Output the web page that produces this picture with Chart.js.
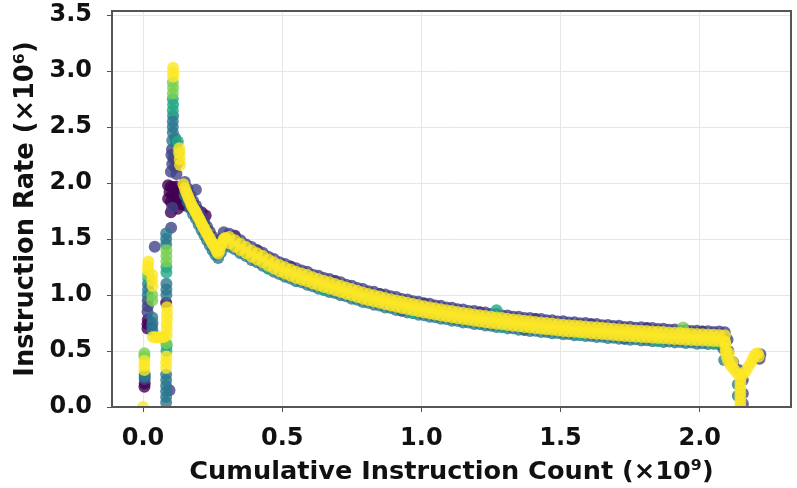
<!DOCTYPE html>
<html>
<head>
<meta charset="utf-8">
<script src="https://cdn.jsdelivr.net/npm/chart.js@4.4.1/dist/chart.umd.min.js"></script>
<style>
  html, body { margin: 0; padding: 0; background: #fff; }
  canvas { display: block; }
</style>
</head>
<body>
<canvas id="chart" width="797" height="488"></canvas>
<script>
// axis ticks
const xTicks = [0, 0.5, 1.0, 1.5, 2.0];
const yTicks = [0, 0.5, 1.0, 1.5, 2.0, 2.5, 3.0, 3.5];

// one series per run, coloured along viridis (last run drawn on top)
const runNames = ['Run 1', 'Run 2', 'Run 3', 'Run 4', 'Run 5', 'Run 6'];
const runColors = ['#440154cc', '#414487cc', '#2a788ecc', '#22a884cc', '#7ad151cc', '#fde725cc'];

// steep part right after the peak (x in 1e9 instructions, y in 1e6 instr/s)
const earlyX = [
  0.145, 0.15, 0.155, 0.16, 0.165, 0.17, 0.175, 0.18, 0.185, 0.19, 0.195, 0.2, 0.205, 0.21, 0.215, 0.22,
  0.225, 0.23, 0.235, 0.24, 0.245, 0.25, 0.255, 0.26, 0.265, 0.27, 0.275, 0.28, 0.285, 0.29, 0.295, 0.3
];
const yellowEarlyY = [
  1.99, 1.95, 1.92, 1.89, 1.86, 1.83, 1.80, 1.78, 1.76, 1.74, 1.71, 1.69, 1.665, 1.64, 1.615, 1.595,
  1.57, 1.55, 1.525, 1.505, 1.48, 1.46, 1.44, 1.42, 1.39, 1.37, 1.40, 1.44, 1.47, 1.50, 1.51, 1.50
];
const earlyEdgeX = [0.15, 0.16, 0.17, 0.18, 0.19, 0.2, 0.21, 0.22, 0.23, 0.24, 0.25, 0.26, 0.27, 0.28, 0.29];
const blueEarlyY = [2.01, 1.95, 1.89, 1.84, 1.80, 1.75, 1.70, 1.655, 1.61, 1.565, 1.52, 1.48, 1.45, 1.50, 1.56];
const tealEarlyY = [1.89, 1.83, 1.77, 1.72, 1.68, 1.63, 1.58, 1.535, 1.49, 1.445, 1.40, 1.36, 1.33, 1.38, 1.44];

// slow decay of the main band
const gridX = [
  0.31, 0.33, 0.35, 0.37, 0.39, 0.41, 0.43, 0.45, 0.47, 0.49,
  0.51, 0.53, 0.55, 0.57, 0.59, 0.61, 0.63, 0.65, 0.67, 0.69,
  0.71, 0.73, 0.75, 0.77, 0.79, 0.81, 0.83, 0.85, 0.87, 0.89,
  0.91, 0.93, 0.95, 0.97, 0.99, 1.01, 1.03, 1.05, 1.07, 1.09,
  1.11, 1.13, 1.15, 1.17, 1.19, 1.21, 1.23, 1.25, 1.27, 1.29,
  1.31, 1.33, 1.35, 1.37, 1.39, 1.41, 1.43, 1.45, 1.47, 1.49,
  1.51, 1.53, 1.55, 1.57, 1.59, 1.61, 1.63, 1.65, 1.67, 1.69,
  1.71, 1.73, 1.75, 1.77, 1.79, 1.81, 1.83, 1.85, 1.87, 1.89,
  1.91, 1.93, 1.95, 1.97, 1.99, 2.01, 2.03, 2.05, 2.07, 2.09
];
const yellowHiY = [
  1.518, 1.488, 1.458, 1.428, 1.398, 1.373, 1.348, 1.318, 1.293, 1.268,
  1.248, 1.228, 1.208, 1.193, 1.178, 1.158, 1.143, 1.128, 1.113, 1.098,
  1.083, 1.068, 1.053, 1.038, 1.023, 1.010, 0.998, 0.986, 0.974, 0.963,
  0.952, 0.941, 0.930, 0.920, 0.910, 0.900, 0.891, 0.882, 0.873, 0.865,
  0.857, 0.849, 0.841, 0.834, 0.827, 0.820, 0.813, 0.806, 0.800, 0.794,
  0.788, 0.782, 0.776, 0.770, 0.765, 0.760, 0.755, 0.750, 0.745, 0.740,
  0.735, 0.731, 0.727, 0.723, 0.719, 0.715, 0.711, 0.707, 0.703, 0.699,
  0.695, 0.691, 0.687, 0.684, 0.681, 0.678, 0.675, 0.672, 0.669, 0.666,
  0.663, 0.660, 0.657, 0.654, 0.651, 0.649, 0.647, 0.645, 0.643, 0.641
];
const yellowLoY = [
  1.462, 1.432, 1.402, 1.372, 1.342, 1.317, 1.292, 1.262, 1.237, 1.212,
  1.192, 1.172, 1.152, 1.137, 1.122, 1.102, 1.087, 1.072, 1.057, 1.042,
  1.027, 1.012, 0.997, 0.982, 0.967, 0.954, 0.942, 0.930, 0.918, 0.907,
  0.896, 0.885, 0.874, 0.864, 0.854, 0.844, 0.835, 0.826, 0.817, 0.809,
  0.801, 0.793, 0.785, 0.778, 0.771, 0.764, 0.757, 0.750, 0.744, 0.738,
  0.732, 0.726, 0.720, 0.714, 0.709, 0.704, 0.699, 0.694, 0.689, 0.684,
  0.679, 0.675, 0.671, 0.667, 0.663, 0.659, 0.655, 0.651, 0.647, 0.643,
  0.639, 0.635, 0.631, 0.628, 0.625, 0.622, 0.619, 0.616, 0.613, 0.610,
  0.607, 0.604, 0.601, 0.598, 0.595, 0.593, 0.591, 0.589, 0.587, 0.585
];
const blueMainY = [
  1.548, 1.512, 1.488, 1.452, 1.428, 1.398, 1.378, 1.342, 1.322, 1.292,
  1.278, 1.252, 1.238, 1.218, 1.208, 1.182, 1.172, 1.152, 1.143, 1.122,
  1.113, 1.092, 1.083, 1.062, 1.053, 1.034, 1.028, 1.010, 1.004, 0.988,
  0.982, 0.965, 0.960, 0.944, 0.940, 0.925, 0.921, 0.906, 0.903, 0.889,
  0.887, 0.873, 0.871, 0.858, 0.857, 0.844, 0.843, 0.830, 0.830, 0.818,
  0.818, 0.806, 0.806, 0.794, 0.795, 0.783, 0.785, 0.774, 0.775, 0.764,
  0.765, 0.755, 0.757, 0.747, 0.749, 0.739, 0.741, 0.731, 0.733, 0.723,
  0.725, 0.715, 0.717, 0.708, 0.711, 0.702, 0.705, 0.696, 0.699, 0.690,
  0.693, 0.684, 0.687, 0.678, 0.681, 0.673, 0.677, 0.670, 0.674, 0.668
];
const tealMainY = [
  1.432, 1.408, 1.372, 1.348, 1.312, 1.293, 1.262, 1.238, 1.207, 1.188,
  1.162, 1.148, 1.122, 1.113, 1.092, 1.078, 1.057, 1.048, 1.027, 1.018,
  0.997, 0.988, 0.967, 0.958, 0.937, 0.930, 0.912, 0.906, 0.888, 0.883,
  0.866, 0.861, 0.844, 0.840, 0.824, 0.820, 0.805, 0.802, 0.787, 0.785,
  0.771, 0.769, 0.755, 0.754, 0.741, 0.740, 0.727, 0.726, 0.714, 0.714,
  0.702, 0.702, 0.690, 0.690, 0.679, 0.680, 0.669, 0.670, 0.659, 0.660,
  0.649, 0.651, 0.641, 0.643, 0.633, 0.635, 0.625, 0.627, 0.617, 0.619,
  0.609, 0.611, 0.601, 0.604, 0.594, 0.597, 0.588, 0.591, 0.581, 0.585,
  0.577, 0.580, 0.571, 0.575, 0.565, 0.569, 0.562, 0.567, 0.558, 0.561
];

// start-up spikes, scattered points and the tail drop, per run
const purpleX = [0.005, 0.006, 0.016, 0.016, 0.017, 0.083,
  0.09, 0.10, 0.11, 0.12, 0.13, 0.095, 0.105, 0.115, 0.125, 0.14, 0.155,
  0.09, 0.10, 0.11, 0.12, 0.135, 0.15, 0.165, 0.18, 0.195, 0.21, 0.225, 0.10, 0.125,
  0.33, 0.41, 0.53, 0.69, 0.85, 1.01, 1.21, 1.41, 1.61, 1.81, 2.01, 0.93, 1.37, 1.73];
const purpleY = [0.18, 0.21, 0.70, 0.74, 0.78, 0.93,
  1.98, 1.97, 1.96, 1.97, 1.94, 1.92, 1.90, 1.88, 1.90, 1.86, 1.84,
  1.86, 1.83, 1.81, 1.84, 1.81, 1.80, 1.79, 1.78, 1.76, 1.74, 1.71, 1.74, 1.77,
  1.53, 1.40, 1.255, 1.125, 1.01, 0.925, 0.845, 0.785, 0.74, 0.705, 0.675, 0.86, 0.69, 0.61];

const blueX = [0.006, 0.016, 0.017, 0.017, 0.032, 0.042, 0.095, 0.101, 0.19,
  0.104, 0.102, 0.11, 0.105, 0.115, 0.10, 0.12, 0.125, 0.105,
  2.10, 2.103, 2.12, 2.14, 2.155, 2.155, 2.155, 2.215, 2.218];
const blueY = [0.25, 0.85, 0.90, 0.95, 0.72, 1.43, 0.15, 1.60, 1.94,
  2.30, 2.25, 2.22, 2.17, 2.14, 2.10, 2.08, 2.18, 1.78,
  0.60, 0.50, 0.40, 0.33, 0.24, 0.12, 0.03, 0.43, 0.47];

const tealX = [0.006, 0.006, 0.017, 0.018, 0.018, 0.033, 0.034, 0.034,
  0.083, 0.083, 0.083, 0.083, 0.083, 0.083, 0.084, 0.084, 0.084, 0.083, 0.083, 0.083,
  0.107, 0.107, 0.107, 0.108, 0.116, 0.12, 0.105,
  2.085, 2.088, 2.137, 2.137];
const tealY = [0.27, 0.29, 1.00, 1.05, 1.10, 0.80, 0.75, 0.68,
  0.04, 0.09, 0.14, 0.19, 0.24, 0.29, 1.00, 1.05, 1.10, 1.45, 1.50, 1.55,
  2.45, 2.50, 2.55, 2.60, 2.40, 2.35, 2.38,
  0.52, 0.42, 0.10, 0.20];

const greenX = [0.019, 0.084, 0.084, 0.085, 0.084, 0.107, 0.108, 0.107, 0.125,
  1.27, 0.45, 0.65, 0.97, 1.29, 1.57, 1.85, 2.05];
const greenY = [1.15, 1.20, 1.25, 0.55, 0.50, 2.65, 2.70, 2.75, 2.37,
  0.865, 1.235, 1.045, 0.84, 0.715, 0.645, 0.59, 0.565];

const limeX = [0.005, 0.005, 0.018, 0.033, 0.033, 0.084, 0.084, 0.084, 0.084,
  0.107, 0.108, 0.107, 0.128, 1.94];
const limeY = [0.45, 0.48, 1.18, 1.00, 0.95, 1.30, 1.35, 1.40, 0.57,
  2.80, 2.85, 2.90, 2.28, 0.71];

const yellowX = [0.0, 0.005, 0.005, 0.005, 0.018, 0.018, 0.019, 0.033, 0.033, 0.034,
  0.035, 0.045, 0.055, 0.065, 0.075, 0.085, 0.085, 0.085, 0.086, 0.086, 0.086, 0.083, 0.083, 0.084,
  0.108, 0.108, 0.108, 0.13, 0.131, 0.132, 0.133,
  2.092, 2.093, 2.094, 2.097, 2.102, 2.11, 2.12, 2.13, 2.14, 2.146, 2.146, 2.146, 2.146, 2.146, 2.146, 2.146,
  2.155, 2.165, 2.175, 2.185, 2.193, 2.2, 2.208, 2.212, 2.105, 2.118];
const yellowY = [0.0, 0.33, 0.37, 0.41, 1.22, 1.26, 1.30, 1.18, 1.13, 1.08,
  0.625, 0.62, 0.62, 0.625, 0.625, 0.64, 0.69, 0.74, 0.79, 0.84, 0.89, 0.35, 0.40, 0.45,
  2.95, 2.99, 3.03, 2.31, 2.26, 2.21, 2.16,
  0.57, 0.53, 0.49, 0.45, 0.41, 0.375, 0.345, 0.315, 0.29, 0.25, 0.21, 0.17, 0.13, 0.09, 0.05, 0.01,
  0.29, 0.32, 0.36, 0.40, 0.44, 0.47, 0.48, 0.45, 0.48, 0.40];

const pts = (xs, ys) => xs.map((x, i) => ({ x: x, y: ys[i] }));

const runData = [
  pts(purpleX, purpleY),
  pts(earlyEdgeX, blueEarlyY).concat(pts(gridX, blueMainY), pts(blueX, blueY)),
  pts(earlyEdgeX, tealEarlyY).concat(pts(gridX, tealMainY), pts(tealX, tealY)),
  pts(greenX, greenY),
  pts(limeX, limeY),
  pts(earlyX, yellowEarlyY).concat(pts(gridX, yellowHiY), pts(gridX, yellowLoY), pts(yellowX, yellowY))
];

const FONT = "'DejaVu Sans', sans-serif";

// draw the four spines above the points
const frame = {
  id: 'frame',
  afterDatasetsDraw(chart) {
    const { ctx, chartArea: a } = chart;
    ctx.save();
    ctx.strokeStyle = '#555';
    ctx.lineWidth = 2;
    ctx.strokeRect(a.left, a.top, a.right - a.left, a.bottom - a.top);
    ctx.restore();
  }
};

new Chart(document.getElementById('chart'), {
  type: 'scatter',
  data: {
    datasets: runNames.map((name, i) => ({
      label: name,
      data: runData[i],
      backgroundColor: runColors[i],
      borderWidth: 0,
      pointRadius: 6,
      pointHoverRadius: 6,
      clip: 0,
      order: runNames.length - 1 - i
    }))
  },
  options: {
    responsive: false,
    animation: false,
    events: [],
    devicePixelRatio: 1,
    layout: { padding: { top: 11, right: 0, bottom: 0, left: 0 } },
    plugins: {
      legend: { display: false },
      tooltip: { enabled: false }
    },
    scales: {
      x: {
        type: 'linear',
        min: -0.1115,
        max: 2.328,
        afterBuildTicks: s => { s.ticks = xTicks.map(v => ({ value: v })); },
        afterFit: s => { s.height = 81; s.paddingLeft = 0; s.paddingRight = 0; },
        grid: { color: '#e6e6e6', lineWidth: 1, tickColor: '#555', tickLength: 5 },
        border: { display: false },
        ticks: {
          color: '#111',
          maxRotation: 0,
          padding: 12,
          font: { family: FONT, size: 24, weight: 'bold' },
          callback: v => v.toFixed(1)
        },
        title: {
          display: true,
          text: 'Cumulative Instruction Count (×10⁹)',
          color: '#111',
          font: { family: FONT, size: 25.6, weight: 'bold' },
          padding: { top: 2, bottom: 0 }
        }
      },
      y: {
        type: 'linear',
        min: 0,
        max: 3.536,
        afterBuildTicks: s => { s.ticks = yTicks.map(v => ({ value: v })); },
        afterFit: s => { s.width = 112; s.paddingTop = 0; s.paddingBottom = 0; },
        grid: { color: '#e6e6e6', lineWidth: 1, tickColor: '#555', tickLength: 5 },
        border: { display: false },
        ticks: {
          color: '#111',
          padding: 15,
          font: { family: FONT, size: 24, weight: 'bold' },
          callback: v => v.toFixed(1)
        },
        title: {
          display: true,
          text: 'Instruction Rate (×10⁶)',
          color: '#111',
          font: { family: FONT, size: 25.7, weight: 'bold' },
          padding: { top: 11, bottom: 0 }
        }
      }
    }
  },
  plugins: [frame]
});
</script>
</body>
</html>
